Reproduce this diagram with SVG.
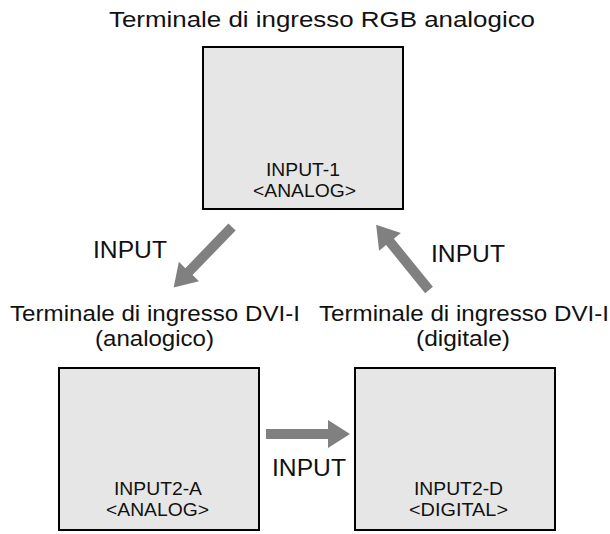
<svg xmlns="http://www.w3.org/2000/svg" width="610" height="534" viewBox="0 0 610 534">
<style>
.box{fill:#e6e6e6;stroke:#000;stroke-width:2}
.lb{font-family:"Liberation Sans",Arial,sans-serif;font-size:18px;fill:#111}
.t{font-family:"Liberation Sans",Arial,sans-serif;font-size:22px;fill:#111}
.i{font-family:"Liberation Sans",Arial,sans-serif;font-size:23px;fill:#111}
.arr{fill:#808080}
</style>
<rect width="610" height="534" fill="#fff"/>
<text class="t" x="109" y="27" textLength="426" lengthAdjust="spacingAndGlyphs">Terminale di ingresso RGB analogico</text>
<text class="t" x="10" y="321" textLength="290" lengthAdjust="spacingAndGlyphs">Terminale di ingresso DVI-I</text>
<text class="t" x="95" y="346" textLength="119" lengthAdjust="spacingAndGlyphs">(analogico)</text>
<text class="t" x="319" y="321" textLength="290" lengthAdjust="spacingAndGlyphs">Terminale di ingresso DVI-I</text>
<text class="t" x="416" y="346" textLength="94" lengthAdjust="spacingAndGlyphs">(digitale)</text>
<g id="n1"><rect class="box" x="203" y="47" width="200" height="162"/>
<text class="lb" x="266" y="176" textLength="74" lengthAdjust="spacingAndGlyphs">INPUT-1</text><text class="lb" x="253" y="197" textLength="103" lengthAdjust="spacingAndGlyphs">&lt;ANALOG&gt;</text></g>
<g id="n2"><rect class="box" x="59" y="368" width="200" height="162"/>
<text class="lb" x="114" y="495" textLength="88" lengthAdjust="spacingAndGlyphs">INPUT2-A</text><text class="lb" x="106" y="516" textLength="103" lengthAdjust="spacingAndGlyphs">&lt;ANALOG&gt;</text></g>
<g id="n3"><rect class="box" x="355" y="368" width="200" height="162"/>
<text class="lb" x="414" y="495" textLength="89" lengthAdjust="spacingAndGlyphs">INPUT2-D</text><text class="lb" x="409" y="516" textLength="99" lengthAdjust="spacingAndGlyphs">&lt;DIGITAL&gt;</text></g>
<g id="connectors">
<polygon class="arr" points="0,-5 62,-5 62,-14 84,0 62,14 62,5 0,5" transform="translate(266,434)"/>
<polygon class="arr" points="0,-5 62,-5 62,-14 84,0 62,14 62,5 0,5" transform="translate(232,227) rotate(134)"/>
<polygon class="arr" points="0,-5 62,-5 62,-14 84,0 62,14 62,5 0,5" transform="translate(429,290) rotate(-129)"/>
<text class="i" x="93" y="258" textLength="74" lengthAdjust="spacingAndGlyphs">INPUT</text>
<text class="i" x="431" y="262" textLength="74" lengthAdjust="spacingAndGlyphs">INPUT</text>
<text class="i" x="272" y="476" textLength="74" lengthAdjust="spacingAndGlyphs">INPUT</text>
</g>
</svg>
